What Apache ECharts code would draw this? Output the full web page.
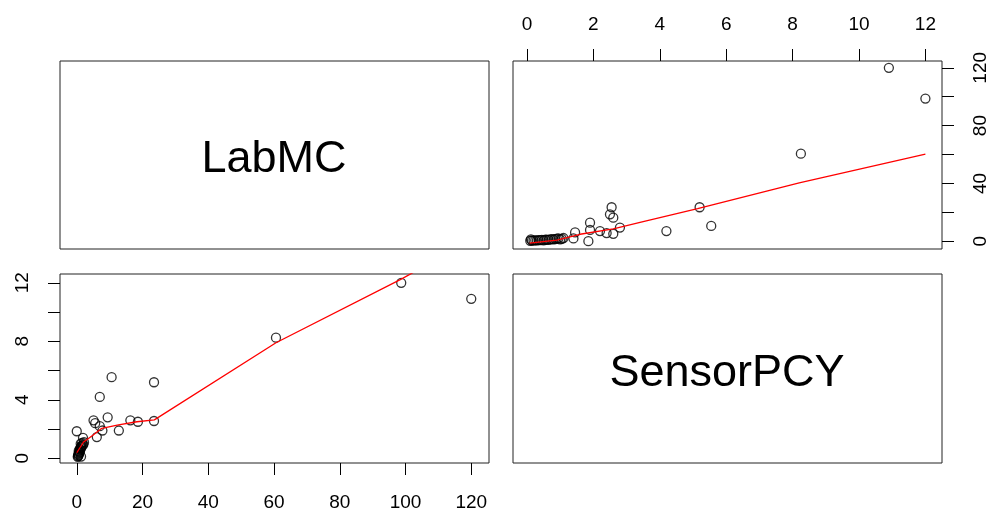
<!DOCTYPE html>
<html>
<head>
<meta charset="utf-8">
<script src="https://cdn.jsdelivr.net/npm/echarts@6/dist/echarts.min.js"></script>
<style>
  html, body { margin: 0; padding: 0; background: #fff; }
  #chart { width: 993px; height: 514px; }
</style>
</head>
<body>
<div id="chart"></div>
<script>
// 变量名
var varNames = ["LabMC", "SensorPCY"];

// 成对观测值 (LabMC, SensorPCY)
var labMC = [
  120, 98.7, 60.6, 23.5, 10.6, 7.0, 23.5, 18.6, 16.3, 9.4,
  12.8, 7.0, 5.1, 5.6, 0.0, 7.8, 6.1, 1.9, 1.2,
  0.3, 0.4, 0.5, 0.6, 0.5, 0.7, 0.8, 0.9, 0.6, 1.0,
  1.1, 0.9, 1.2, 1.4, 1.3, 1.5, 1.8, 2.0, 1.6, 2.2, 1.3
];
var sensorPCY = [
  10.9, 12.0, 8.25, 5.2, 5.55, 4.2, 2.55, 2.5, 2.6, 2.8,
  1.9, 2.2, 2.6, 2.4, 1.85, 1.9, 1.45, 1.4, 1.0,
  0.1, 0.15, 0.2, 0.25, 0.3, 0.35, 0.4, 0.45, 0.5, 0.55,
  0.6, 0.65, 0.7, 0.75, 0.8, 0.85, 0.9, 0.95, 1.05, 1.1, 0.12
];

// 平滑线 (LabMC 对 SensorPCY)
var smoothTRx = [0.08, 0.9, 1.6, 2.6, 3.5, 5.14, 8.2, 12.0];
var smoothTRy = [-1.3, 0.7, 4.8, 8.6, 13.6, 22.6, 40.4, 60.2];
// 平滑线 (SensorPCY 对 LabMC)
var smoothBLx = [0.0, 2.0, 5.0, 7.6, 12.7, 18.3, 23.6, 60.6, 98.7, 120];
var smoothBLy = [0.38, 1.1, 1.6, 2.05, 2.28, 2.5, 2.63, 7.9, 12.25, 14.9];

// 刻度
var sensorTicks = [0, 2, 4, 6, 8, 10, 12];
var sensorLabelsTop = [0, 2, 4, 6, 8, 10, 12];
var sensorLabelsLeft = [0, 4, 8, 12];
var labTicks = [0, 20, 40, 60, 80, 100, 120];
var labLabelsBottom = [0, 20, 40, 60, 80, 100, 120];
var labLabelsRight = [0, 40, 80, 120];

var font = "'Liberation Sans', Arial, sans-serif";

function zip(a, b) {
  return a.map(function (v, i) { return [v, b[i]]; });
}

var chart = echarts.init(document.getElementById("chart"));

// 公共坐标轴样式
function axisBase(extra) {
  return Object.assign({
    type: "value",
    axisLine: { show: false, onZero: false },
    splitLine: { show: false }
  }, extra);
}
function tickStyle(values) {
  return { show: true, inside: false, length: 12, lineStyle: { color: "#000", width: 1 }, customValues: values };
}
function labelStyle(values, margin, rotate) {
  return { color: "#000", fontSize: 19, fontFamily: font, margin: margin, rotate: rotate || 0, customValues: values };
}
function hiddenAxis(grid) {
  return { type: "value", gridIndex: grid, show: false, min: 0, max: 1 };
}

var boxes = [
  { left: 60, top: 61, width: 429, height: 188 },
  { left: 513, top: 61, width: 429, height: 188 },
  { left: 60, top: 274, width: 429, height: 189 },
  { left: 513, top: 274, width: 429, height: 189 }
];

chart.setOption({
  animation: false,
  backgroundColor: "#fff",
  grid: boxes.map(function (b) {
    return Object.assign({ show: true, borderColor: "#222", borderWidth: 1, backgroundColor: "transparent" }, b);
  }),
  xAxis: [
    hiddenAxis(0),
    axisBase({
      gridIndex: 1, position: "top", min: -0.42, max: 12.5,
      axisTick: tickStyle(sensorTicks),
      axisLabel: labelStyle(sensorLabelsTop, 27)
    }),
    axisBase({
      gridIndex: 2, position: "bottom", min: -5.1, max: 125.4,
      axisTick: tickStyle(labTicks),
      axisLabel: labelStyle(labLabelsBottom, 30)
    }),
    hiddenAxis(3)
  ],
  yAxis: [
    hiddenAxis(0),
    axisBase({
      gridIndex: 1, position: "right", min: -5.4, max: 124.7,
      axisTick: tickStyle(labTicks),
      axisLabel: labelStyle(labLabelsRight, 29, 90)
    }),
    axisBase({
      gridIndex: 2, position: "left", min: -0.32, max: 12.6,
      axisTick: tickStyle(sensorTicks),
      axisLabel: labelStyle(sensorLabelsLeft, 28, 90)
    }),
    hiddenAxis(3)
  ],
  // 对角线上的变量名
  graphic: [
    { type: "text", x: 274, y: 160, style: { text: varNames[0], font: "45px " + font, fill: "#000", textAlign: "center", textVerticalAlign: "middle" } },
    { type: "text", x: 727, y: 374, style: { text: varNames[1], font: "45px " + font, fill: "#000", textAlign: "center", textVerticalAlign: "middle" } }
  ],
  series: [
    {
      type: "scatter", xAxisIndex: 1, yAxisIndex: 1,
      data: zip(sensorPCY, labMC),
      symbol: "circle", symbolSize: 9,
      itemStyle: { color: "rgba(0,0,0,0)", borderColor: "#000", borderWidth: 1.3 }
    },
    {
      type: "line", xAxisIndex: 1, yAxisIndex: 1,
      data: zip(smoothTRx, smoothTRy),
      showSymbol: false, clip: true,
      lineStyle: { color: "#ff0000", width: 1.3 }
    },
    {
      type: "scatter", xAxisIndex: 2, yAxisIndex: 2,
      data: zip(labMC, sensorPCY),
      symbol: "circle", symbolSize: 9,
      itemStyle: { color: "rgba(0,0,0,0)", borderColor: "#000", borderWidth: 1.3 }
    },
    {
      type: "line", xAxisIndex: 2, yAxisIndex: 2,
      data: zip(smoothBLx, smoothBLy),
      showSymbol: false, clip: true,
      lineStyle: { color: "#ff0000", width: 1.3 }
    }
  ]
});
</script>
</body>
</html>
